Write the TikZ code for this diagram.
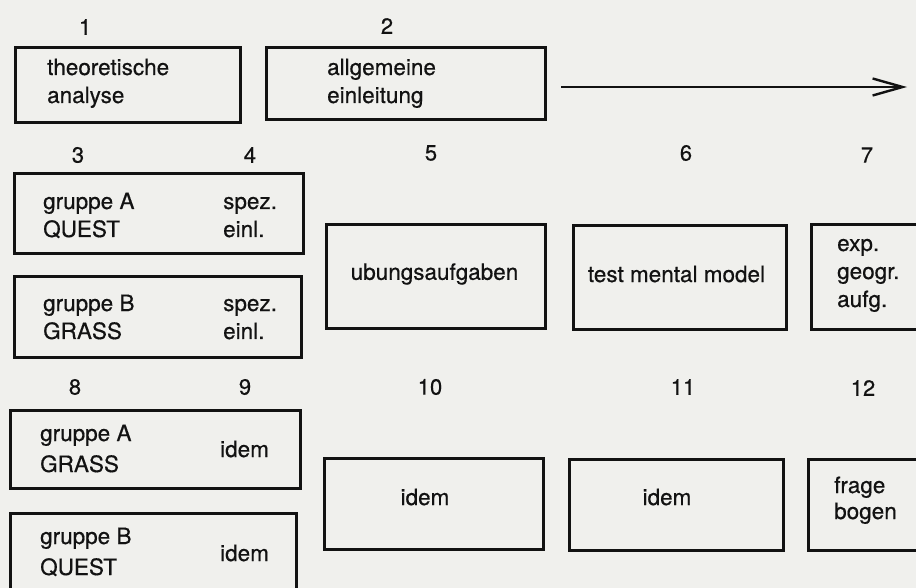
\documentclass[tikz,border=0pt]{standalone}
\usepackage{fontspec}
\setmainfont{TeX Gyre Heros}[FakeBold=0.5]
\usetikzlibrary{arrows.meta}
\definecolor{paper}{RGB}{240,240,237}
\definecolor{ink}{RGB}{18,18,18}
\newcommand{\mlines}[1]{\begin{tabular}[t]{@{}l@{}}#1\end{tabular}}
\begin{document}
\begin{tikzpicture}[x=1pt,y=-1pt,
  box/.style={draw=ink, line width=2.6pt, rectangle, inner sep=0pt, anchor=north west},
  txt/.style={font=\fontsize{22.5}{28}\selectfont, text=ink, inner sep=0pt, anchor=base west},
  ctxt/.style={font=\fontsize{22.5}{28}\selectfont, text=ink, inner sep=0pt, anchor=center},
  num/.style={font=\fontsize{22}{26}\selectfont, text=ink, inner sep=0pt, anchor=center},
  flow/.style={draw=ink, line width=2.4pt, -{Straight Barb[length=30pt,width=17pt]}}]
\useasboundingbox (0,0) rectangle (916,588);
\fill[paper] (0,0) rectangle (916,588);
\clip (0,0) rectangle (916,588);

% row 1
\node[num] (n1) at (85,27) {1};
\node[num] (n2) at (387,26) {2};
\node[box, minimum width=225pt, minimum height=75pt] (b1) at (14,46) {};
\node[box, minimum width=279pt, minimum height=72pt] (b2) at (265,46) {};
\node[txt] (t1) at (47,75) {\mlines{theoretische\\analyse}};
\node[txt] (t2) at (327,75) {\mlines{allgemeine\\einleitung}};
\coordinate (a0) at (561,87);
\coordinate (a1) at (907,87);
\draw[flow] (a0) -- (a1);

% row 2
\node[num] (n3) at (78,155) {3};
\node[num] (n4) at (250,155) {4};
\node[num] (n5) at (431,153) {5};
\node[num] (n6) at (686,153) {6};
\node[num] (n7) at (867,155) {7};
\node[box, minimum width=289pt, minimum height=80pt] (b3a) at (13,172) {};
\node[box, minimum width=287pt, minimum height=81pt] (b3b) at (13,275) {};
\node[box, minimum width=219pt, minimum height=104pt] (b5) at (325,223) {};
\node[box, minimum width=213pt, minimum height=104pt] (b6) at (572,224) {};
\node[box, minimum width=140pt, minimum height=105pt] (b7) at (810,223) {};
\node[txt] (t3a) at (43,209) {\mlines{gruppe A\\QUEST}};
\node[txt] (t4a) at (223,209) {\mlines{spez.\\einl.}};
\node[txt] (t3b) at (43,311) {\mlines{gruppe B\\GRASS}};
\node[txt] (t4b) at (223,311) {\mlines{spez.\\einl.}};
\node[ctxt] (t5) at (434.5,274) {ubungsaufgaben};
\node[ctxt] (t6) at (676.5,274) {test mental model};
\node[txt] (t7) at (837,251) {\mlines{exp.\\geogr.\\aufg.}};

% row 3
\node[num] (n8) at (75,387) {8};
\node[num] (n9) at (245,387) {9};
\node[num] (n10) at (430,387) {10};
\node[num] (n11) at (683,387) {11};
\node[num] (n12) at (863,388) {12};
\node[box, minimum width=290pt, minimum height=78pt] (b8a) at (9,409) {};
\node[box, minimum width=286pt, minimum height=100pt] (b8b) at (9,512) {};
\node[box, minimum width=219pt, minimum height=91pt] (b10) at (323,457) {};
\node[box, minimum width=214pt, minimum height=91pt] (b11) at (568,458) {};
\node[box, minimum width=140pt, minimum height=91pt] (b12) at (807,458) {};
\node[txt, font=\fontsize{22.5}{31}\selectfont] (t8a) at (40,441) {\mlines{gruppe A\\GRASS}};
\node[txt] (t9a) at (220,457) {idem};
\node[txt, font=\fontsize{22.5}{31}\selectfont] (t8b) at (40,544) {\mlines{gruppe B\\QUEST}};
\node[txt] (t9b) at (220,561) {idem};
\node[ctxt] (t10) at (425,497) {idem};
\node[ctxt] (t11) at (667,497) {idem};
\node[txt, font=\fontsize{22.5}{26}\selectfont] (t12) at (834,493) {\mlines{frage\\bogen}};
\end{tikzpicture}
\end{document}
